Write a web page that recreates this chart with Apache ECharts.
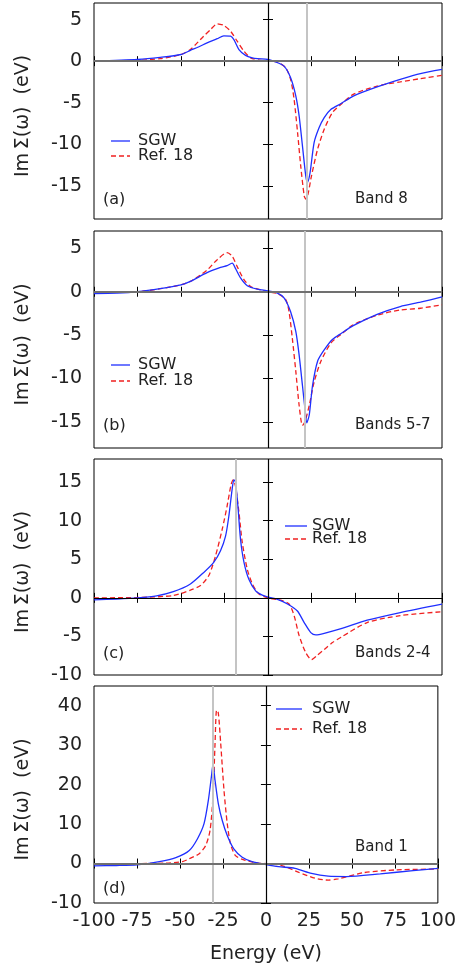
<!DOCTYPE html>
<html>
<head>
<meta charset="utf-8">
<script src="https://cdn.jsdelivr.net/npm/echarts@6/dist/echarts.min.js"></script>
<style>
  html, body { margin: 0; padding: 0; background: #fff; }
  #chart { width: 459px; height: 968px; }
</style>
</head>
<body>
<div id="chart"></div>
<script>
// energy (eV), Im Sigma (eV)
var sgwA = [[-100,0],[-75,0.2],[-62,0.45],[-50,0.8],[-44.6,1.3],[-40,1.7],[-35,2.2],[-29.2,2.7],[-25.4,3.05],[-21.5,3.0],[-19.6,2.6],[-16.7,1.4],[-12.9,0.7],[-9,0.4],[-6,0.3],[0,0.2],[4.4,-0.1],[9.2,-0.6],[13,-2],[16,-4.2],[17.9,-6.6],[19.8,-10.2],[21.7,-13.8],[22.7,-14.6],[24.2,-13.4],[26.5,-9.8],[29.4,-8],[32.3,-6.8],[36.2,-5.8],[42,-5.1],[49,-4.2],[62.7,-3.1],[76,-2.2],[87.6,-1.5],[100,-1.0]];
var refA = [[-100,0],[-75,0.1],[-62,0.3],[-50,0.8],[-44.6,1.4],[-37,3.0],[-33,3.8],[-29.2,4.5],[-25.4,4.3],[-21.5,3.6],[-17.7,2.4],[-13.8,1.2],[-10,0.4],[-4.2,0.1],[0,0],[5.4,-0.1],[10.2,-0.8],[13,-2.2],[15,-4.6],[17,-8.6],[18.8,-12.6],[20.8,-16.2],[21.7,-16.6],[23,-16],[25,-13.8],[28.5,-10.6],[32.3,-8.2],[37,-6.2],[42,-5.2],[49,-4.0],[62.7,-3.0],[76,-2.5],[87.6,-2.1],[100,-1.7]];

var sgwB = [[-100,-0.2],[-87,-0.15],[-75,0],[-62,0.35],[-50,0.8],[-44.6,1.2],[-35,2.2],[-27.3,2.8],[-23.5,3.0],[-20.6,3.3],[-18.7,2.7],[-15.8,1.6],[-11.9,0.7],[-6.2,0.3],[0,0.1],[5.4,-0.15],[9.2,-0.7],[13,-2.3],[16,-4.6],[17.9,-7.3],[19.8,-10.8],[21.2,-13.4],[22.3,-15.1],[23.7,-14.2],[25.6,-10.8],[28.5,-8],[32.3,-6.7],[37,-5.5],[42,-4.8],[49,-3.9],[62.7,-2.6],[76,-1.7],[87.6,-1.2],[100,-0.6]];
var refB = [[-100,-0.1],[-75,0],[-62,0.35],[-50,0.8],[-44.6,1.2],[-35,2.5],[-29.2,3.7],[-23.5,4.5],[-20.6,4.1],[-17.7,2.9],[-13.8,1.4],[-10,0.6],[-4,0.2],[0,0],[5.4,-0.2],[10.2,-0.9],[12.1,-2.3],[14,-5.4],[16,-9.2],[17.9,-13.1],[19.8,-15.4],[21.2,-15],[23.7,-13.1],[26.5,-10.4],[30.4,-8],[36.2,-5.9],[42,-4.9],[49,-3.8],[62.7,-2.7],[76,-2.1],[87.6,-1.9],[100,-1.5]];

var sgwC = [[-100,-0.26],[-87,-0.15],[-75,0],[-64,0.26],[-54.4,0.8],[-44.6,1.8],[-36.9,3.3],[-31.2,4.6],[-27.3,6.1],[-24.4,8],[-22.5,10.6],[-20.6,14.1],[-19.6,15.3],[-18.7,15],[-17.3,11.9],[-15.8,7.6],[-13.8,4.6],[-11,2.4],[-7.1,0.9],[-3.3,0.35],[0,0.1],[5.4,-0.2],[11.2,-0.8],[16.9,-1.7],[20.8,-3.2],[24.6,-4.5],[27.5,-4.8],[32.3,-4.6],[42,-4.0],[57,-2.9],[76,-1.9],[100,-0.8]];
var refC = [[-100,0],[-75,0.05],[-54.4,0.3],[-44.6,1.0],[-38.8,1.6],[-34,2.9],[-30.2,5.4],[-26.3,8.9],[-23.5,11.9],[-21.2,14.7],[-20,15.3],[-18.7,14.5],[-16.7,11.1],[-14.8,7.2],[-11.9,3.7],[-9,1.8],[-5.2,0.5],[0,0],[7.3,-0.3],[12.1,-0.8],[15,-2.3],[17.9,-4.9],[21.7,-7.1],[25,-8],[28.5,-7.4],[32.3,-6.7],[37,-5.8],[42,-5.1],[57,-3.2],[76,-2.3],[100,-1.8]];

var sgwD = [[-100,-0.6],[-87,-0.5],[-75,-0.3],[-62,0.5],[-52.4,1.5],[-44.6,3.3],[-39.8,6.3],[-36,10.1],[-33.5,16],[-31.5,22.8],[-30.8,25.2],[-29.6,21.1],[-27.7,15.2],[-25.4,10.9],[-22.5,7.1],[-18.7,3.7],[-13.8,1.6],[-8.1,0.5],[0,-0.25],[7.3,-0.8],[16.9,-1.2],[26.5,-2.5],[36.2,-3.2],[47,-3.3],[66.5,-2.6],[85.6,-1.8],[100,-1.2]];
var refD = [[-100,0],[-75,0],[-58,0.1],[-48.5,0.5],[-44.6,1.2],[-38.8,2.5],[-35,4.6],[-32.5,8.4],[-30.8,16.9],[-29.6,30.4],[-28.7,38.9],[-27.7,38.2],[-26.3,30.4],[-24.4,18.6],[-22.5,10.1],[-20.6,5],[-17.7,2],[-12,0.8],[-4.2,0.1],[0,0],[9.2,-0.5],[18.8,-2.2],[28.5,-3.7],[36.2,-4.2],[42,-3.9],[57,-2.3],[76,-1.6],[100,-1.4]];

var yMin = [-19, -18, -10, -10];
var yMax = [7, 7, 18, 45];
var yTicks = [[-15,-10,-5,0,5], [-15,-10,-5,0,5], [-10,-5,0,5,10,15], [-10,0,10,20,30,40]];
var peakLine = [22, 21, -18.3, -31];   // grey vertical markers
var panelTag = ['(a)', '(b)', '(c)', '(d)'];
var bandName = ['Band 8', 'Bands 5-7', 'Bands 2-4', 'Band 1'];
var sgwData = [sgwA, sgwB, sgwC, sgwD];
var refData = [refA, refB, refC, refD];

var FONT = 'DejaVu Sans';
var BLUE = '#1f2fff';
var RED = '#f02020';
var tops = [3, 231, 459, 686];
var heights = [216, 217, 216, 217];
var zeroColor = ['#707070', '#707070', '#000', '#707070'];
var zeroWidth = [2, 2, 1.2, 2];
var legendPos = [
  {x1: 111, x2: 130, tx: 138, y1: 141, y2: 156},
  {x1: 111, x2: 130, tx: 138, y1: 365, y2: 381},
  {x1: 285, x2: 307, tx: 312, y1: 526, y2: 539},
  {x1: 276, x2: 302, tx: 312, y1: 709, y2: 729}
];
var tagY = [200, 426, 654, 889];

var grids = [], xAxes = [], yAxes = [], series = [], graphics = [];
for (var i = 0; i < 4; i++) {
  grids.push({left: 94, right: 17, top: tops[i], height: heights[i], show: true, borderColor: '#000', borderWidth: 1, backgroundColor: 'transparent'});
}
for (var i = 0; i < 4; i++) {
  xAxes.push({
    type: 'value', gridIndex: i, min: -100, max: 100, interval: 25, position: 'bottom',
    axisLine: {show: false}, splitLine: {show: false},
    axisTick: {inside: true, length: 5, lineStyle: {color: '#000'}},
    axisLabel: {show: i === 3, margin: 9, fontFamily: FONT, fontSize: 19, color: '#222'},
    name: i === 3 ? 'Energy (eV)' : '', nameLocation: 'middle', nameGap: 42,
    nameTextStyle: {fontFamily: FONT, fontSize: 19, color: '#222'}
  });
  yAxes.push({
    type: 'value', gridIndex: i, min: yMin[i], max: yMax[i], position: 'left',
    axisLine: {show: false}, splitLine: {show: false},
    axisTick: {inside: true, length: 5, customValues: yTicks[i], lineStyle: {color: '#000'}},
    axisLabel: {margin: 12, customValues: yTicks[i], fontFamily: FONT, fontSize: 19, color: '#222'}
  });
}
for (var i = 0; i < 4; i++) {
  xAxes.push({
    type: 'value', gridIndex: i, min: -100, max: 100, interval: 25, position: 'top',
    axisLine: {show: false}, splitLine: {show: false},
    axisTick: {inside: true, length: 5, lineStyle: {color: '#000'}},
    axisLabel: {show: false}
  });
  yAxes.push({
    type: 'value', gridIndex: i, min: yMin[i], max: yMax[i], position: 'right',
    axisLine: {show: false}, splitLine: {show: false},
    axisTick: {inside: true, length: 5, customValues: yTicks[i], lineStyle: {color: '#000'}},
    axisLabel: {show: false}
  });
}

for (var i = 0; i < 4; i++) {
  series.push({
    type: 'line', xAxisIndex: i, yAxisIndex: i, data: [], z: 1, silent: true,
    markLine: {
      symbol: 'none', silent: true, label: {show: false}, animation: false,
      data: [
        {xAxis: peakLine[i], lineStyle: {color: '#c4c4c4', width: 2, type: 'solid'}},
        {yAxis: 0, lineStyle: {color: zeroColor[i], width: zeroWidth[i], type: 'solid'}},
        {xAxis: 0, lineStyle: {color: '#000', width: 1.2, type: 'solid'}}
      ]
    }
  });
  series.push({
    name: 'SGW', type: 'line', xAxisIndex: i, yAxisIndex: i, data: sgwData[i],
    showSymbol: false, smooth: 0.25, z: 4, animation: false,
    lineStyle: {color: BLUE, width: 1.3}
  });
  series.push({
    name: 'Ref. 18', type: 'line', xAxisIndex: i, yAxisIndex: i, data: refData[i],
    showSymbol: false, smooth: 0.25, z: 3, animation: false,
    lineStyle: {color: RED, width: 1.3, type: [5, 3]}
  });

  var lp = legendPos[i];
  graphics.push({type: 'line', shape: {x1: lp.x1, y1: lp.y1, x2: lp.x2, y2: lp.y1}, style: {stroke: BLUE, lineWidth: 1.3}});
  graphics.push({type: 'line', shape: {x1: lp.x1, y1: lp.y2, x2: lp.x2, y2: lp.y2}, style: {stroke: RED, lineWidth: 1.3, lineDash: [5, 3]}});
  graphics.push({type: 'text', x: lp.tx, y: lp.y1, style: {text: 'SGW', font: '16px "DejaVu Sans"', fill: '#222', textVerticalAlign: 'middle'}});
  graphics.push({type: 'text', x: lp.tx, y: lp.y2, style: {text: 'Ref. 18', font: '16px "DejaVu Sans"', fill: '#222', textVerticalAlign: 'middle'}});
  graphics.push({type: 'text', x: 103, y: tagY[i], style: {text: panelTag[i], font: '16px "DejaVu Sans"', fill: '#222', textVerticalAlign: 'middle'}});
  graphics.push({type: 'text', x: 355, y: i === 3 ? 847 : tagY[i] - 1, style: {text: bandName[i], font: '15px "DejaVu Sans"', fill: '#222', textVerticalAlign: 'middle'}});
  graphics.push({type: 'text', x: 23, y: tops[i] + heights[i] / 2 + 5, rotation: Math.PI / 2,
    style: {text: 'Im\u2009Σ(ω)  (eV)', font: '19px "DejaVu Sans"', fill: '#222', textAlign: 'center', textVerticalAlign: 'middle'}});
}

var chart = echarts.init(document.getElementById('chart'));
chart.setOption({
  animation: false,
  grid: grids,
  xAxis: xAxes,
  yAxis: yAxes,
  series: series,
  graphic: graphics
});
</script>
</body>
</html>
